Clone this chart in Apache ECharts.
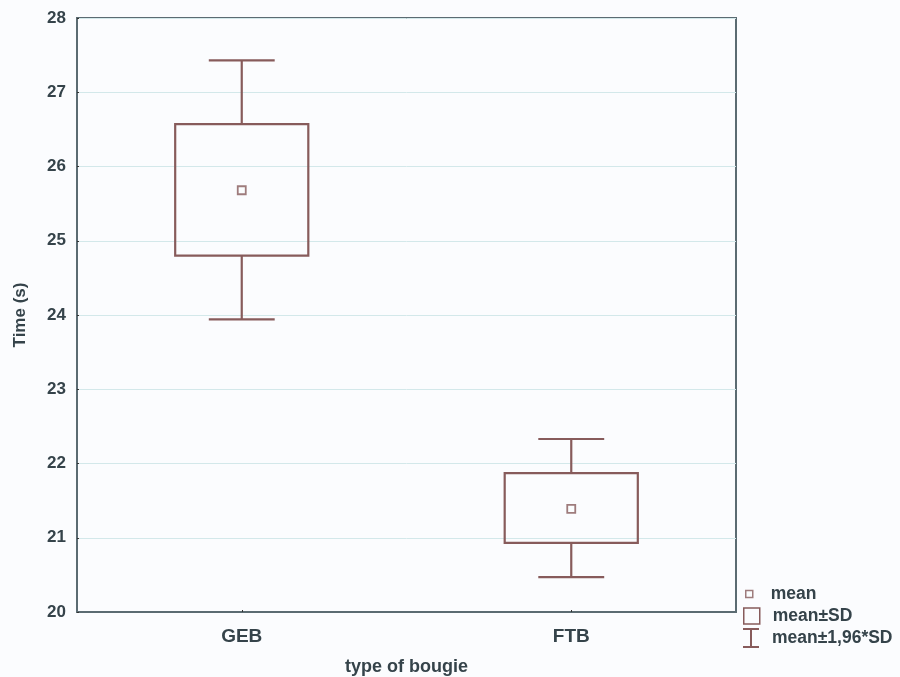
<!DOCTYPE html>
<html>
<head>
<meta charset="utf-8">
<script src="https://cdn.jsdelivr.net/npm/echarts@6/dist/echarts.min.js"></script>
<style>html,body{margin:0;padding:0;background:#fbfcfe;}#c{width:900px;height:677px;}</style>
</head>
<body>
<div id="c"></div>
<script>
const categories = ['GEB', 'FTB'];
const meanValues = [25.68, 21.39];
const sdLow = [24.80, 20.93];
const sdHigh = [26.57, 21.87];
const ciLow = [23.94, 20.47];
const ciHigh = [27.43, 22.33];
const yTicks = [20, 21, 22, 23, 24, 25, 26, 27, 28];

const boxColor = '#875b5b';
const axisColor = '#5b6b72';
const textColor = '#35434a';
const FONT = 'Liberation Sans, Arial, sans-serif';

const chart = echarts.init(document.getElementById('c'), null, {renderer: 'canvas'});

const boxData = categories.map((c, i) => [i, sdLow[i], sdHigh[i]]);
const whiskerData = categories.map((c, i) => [i, ciLow[i], sdLow[i], sdHigh[i], ciHigh[i]]);
const meanData = categories.map((c, i) => [i, meanValues[i]]);

function legendText(padLeft) {
  return {fontFamily: FONT, fontSize: 17.5, fontWeight: 'bold', color: textColor, padding: [0, 0, 0, padLeft]};
}

chart.setOption({
  backgroundColor: '#fbfcfe',
  animation: false,
  grid: {left: 77, right: 164, top: 18, bottom: 65, show: true, borderColor: axisColor, borderWidth: 2, backgroundColor: 'transparent', containLabel: false, outerBoundsMode: 'none'},
  xAxis: {
    type: 'category', data: categories, boundaryGap: true,
    name: 'type of bougie', nameLocation: 'middle', nameGap: 46,
    nameTextStyle: {fontFamily: FONT, fontSize: 18, fontWeight: 'bold', color: textColor},
    axisLine: {lineStyle: {color: axisColor, width: 2}},
    axisTick: {show: true, alignWithLabel: true, inside: true, length: 2, lineStyle: {color: '#333'}},
    axisLabel: {fontFamily: FONT, fontSize: 19, fontWeight: 'bold', color: textColor, margin: 15},
    splitLine: {show: false}
  },
  yAxis: {
    type: 'value', min: yTicks[0], max: yTicks[yTicks.length - 1], interval: 1,
    name: 'Time (s)', nameLocation: 'middle', nameGap: 48,
    nameTextStyle: {fontFamily: FONT, fontSize: 17, fontWeight: 'bold', color: textColor},
    axisLine: {show: true, lineStyle: {color: axisColor, width: 2}},
    axisTick: {show: true, inside: true, length: 2, lineStyle: {color: '#333'}},
    axisLabel: {fontFamily: FONT, fontSize: 17, fontWeight: 'bold', color: textColor, margin: 11},
    splitLine: {show: true, lineStyle: {color: '#d3e8ea', width: 1}}
  },
  legend: [
    {orient: 'vertical', left: 745, top: 585, padding: 0, selectedMode: false, itemWidth: 7, itemHeight: 7,
     textStyle: legendText(13),
     data: [{name: 'mean', icon: 'rect', itemStyle: {color: '#fbfcfe', borderColor: boxColor, borderWidth: 1.5}}]},
    {orient: 'vertical', left: 743, top: 607, padding: 0, selectedMode: false, itemWidth: 16, itemHeight: 16,
     textStyle: legendText(8),
     data: [{name: 'mean±SD', icon: 'rect', itemStyle: {color: '#fbfcfe', borderColor: boxColor, borderWidth: 1.5}}]},
    {orient: 'vertical', left: 743, top: 628, padding: 0, selectedMode: false, itemWidth: 16, itemHeight: 20,
     textStyle: legendText(8),
     data: [{name: 'mean±1,96*SD', icon: 'path://M0,0H16V2H9V18H16V20H0V18H7V2H0Z', itemStyle: {color: boxColor, borderWidth: 0}}]}
  ],
  series: [
    {
      name: 'mean±SD', type: 'custom', data: boxData, z: 3,
      itemStyle: {color: boxColor},
      encode: {x: 0, y: [1, 2]},
      renderItem: function (params, api) {
        const x = api.value(0);
        const lo = api.coord([x, api.value(1)]);
        const hi = api.coord([x, api.value(2)]);
        const bw = api.size([1, 0])[0] * 0.404;
        return {
          type: 'rect',
          shape: {x: lo[0] - bw / 2, y: hi[1], width: bw, height: lo[1] - hi[1]},
          style: {fill: 'none', stroke: boxColor, lineWidth: 2.2}
        };
      }
    },
    {
      name: 'mean±1,96*SD', type: 'custom', data: whiskerData, z: 3,
      itemStyle: {color: boxColor},
      encode: {x: 0, y: [1, 4]},
      renderItem: function (params, api) {
        const x = api.value(0);
        const a = api.coord([x, api.value(1)]);
        const b = api.coord([x, api.value(2)]);
        const c = api.coord([x, api.value(3)]);
        const d = api.coord([x, api.value(4)]);
        const cw = api.size([1, 0])[0] * 0.2;
        const st = {stroke: boxColor, lineWidth: 2.2, fill: 'none'};
        return {
          type: 'group',
          children: [
            {type: 'line', shape: {x1: a[0], y1: a[1], x2: b[0], y2: b[1]}, style: st},
            {type: 'line', shape: {x1: c[0], y1: c[1], x2: d[0], y2: d[1]}, style: st},
            {type: 'line', shape: {x1: a[0] - cw / 2, y1: a[1], x2: a[0] + cw / 2, y2: a[1]}, style: st},
            {type: 'line', shape: {x1: d[0] - cw / 2, y1: d[1], x2: d[0] + cw / 2, y2: d[1]}, style: st}
          ]
        };
      }
    },
    {
      name: 'mean', type: 'scatter', data: meanData, z: 4,
      symbol: 'rect', symbolSize: 8,
      itemStyle: {color: '#fbfcfe', borderColor: boxColor, borderWidth: 1.8}
    }
  ]
});
</script>
</body>
</html>
